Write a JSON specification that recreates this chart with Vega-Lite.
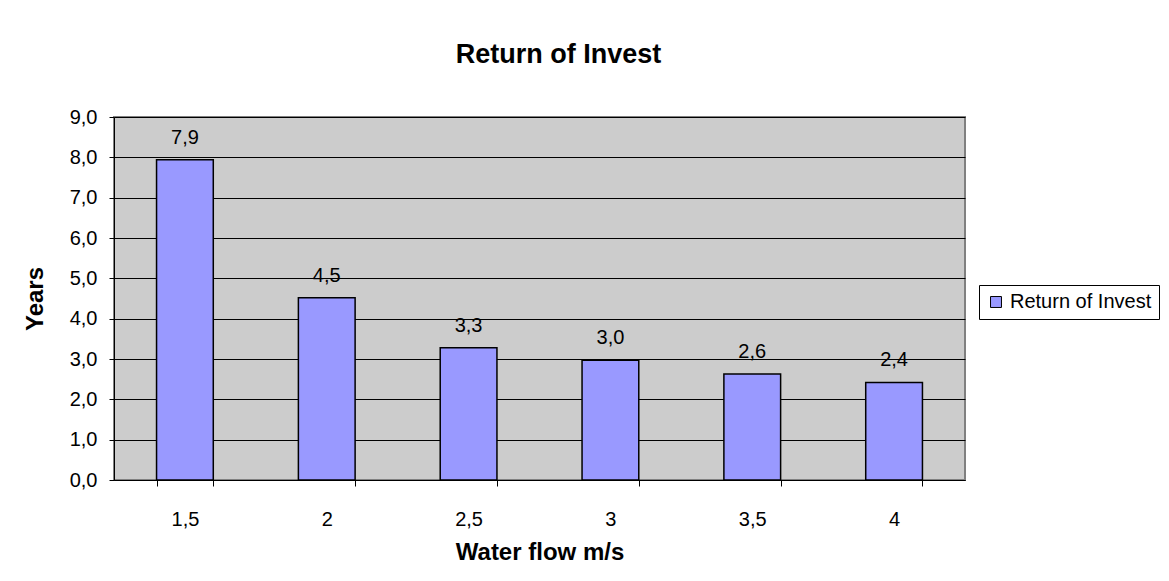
{
  "$schema": "https://vega.github.io/schema/vega-lite/v6.json",
  "autosize": "none",
  "width": 851,
  "height": 363,
  "padding": {"left": 114, "top": 117, "right": 204, "bottom": 101},
  "background": "white",
  "title": {
    "text": "Return of Invest",
    "fontSize": 27,
    "font": "Liberation Sans",
    "fontWeight": "bold",
    "color": "black",
    "anchor": "middle",
    "offset": 38,
    "dx": 19
  },
  "data": {
    "values": [
      {"flow": 1.5, "years": 7.94},
      {"flow": 2, "years": 4.52},
      {"flow": 2.5, "years": 3.28},
      {"flow": 3, "years": 2.97},
      {"flow": 3.5, "years": 2.63},
      {"flow": 4, "years": 2.42}
    ]
  },
  "encoding": {
    "x": {
      "field": "flow",
      "type": "ordinal",
      "sort": null,
      "scale": {"paddingInner": 0.6, "paddingOuter": 0.3},
      "axis": {
        "title": "Water flow m/s",
        "format": ".1~f",
        "formatType": "number",
        "labelAngle": 0,
        "tickBand": "extent",
        "tickSize": 6,
        "labelPadding": 23,
        "titlePadding": 11
      }
    },
    "y": {
      "field": "years",
      "type": "quantitative",
      "scale": {"domain": [0, 9], "nice": false},
      "axis": {
        "title": "Years",
        "values": [0, 1, 2, 3, 4, 5, 6, 7, 8, 9],
        "format": ".1f",
        "grid": true,
        "tickSize": 5,
        "labelPadding": 12,
        "titlePadding": 22
      }
    }
  },
  "layer": [
    {
      "mark": {"type": "bar", "stroke": "black", "strokeWidth": 1.5},
      "encoding": {
        "color": {
          "datum": "Return of Invest",
          "type": "nominal",
          "scale": {"range": ["#9999FF"]},
          "legend": {
            "title": null,
            "orient": "none",
            "legendX": 865,
            "legendY": 168,
            "strokeColor": "black",
            "fillColor": "white",
            "padding": 7,
            "symbolType": "square",
            "symbolSize": 120,
            "symbolStrokeColor": "black",
            "symbolStrokeWidth": 1,
            "labelFontSize": 20,
            "labelFont": "Liberation Sans",
            "labelColor": "black"
          }
        }
      }
    },
    {
      "mark": {"type": "text", "baseline": "bottom", "dy": -12, "fontSize": 20, "font": "Liberation Sans", "color": "black"},
      "encoding": {
        "text": {"field": "years", "type": "quantitative", "format": ".1f"}
      }
    }
  ],
  "config": {
    "locale": {
      "number": {"decimal": ",", "thousands": ".", "grouping": [3], "currency": ["", " €"]}
    },
    "view": {"fill": "#CCCCCC", "stroke": "#808080", "strokeWidth": 2},
    "axis": {
      "labelFont": "Liberation Sans",
      "labelFontSize": 20,
      "labelColor": "black",
      "titleFont": "Liberation Sans",
      "titleFontSize": 24,
      "titleFontWeight": "bold",
      "titleColor": "black",
      "domainColor": "black",
      "domainWidth": 1,
      "tickColor": "black",
      "tickWidth": 1,
      "gridColor": "black",
      "gridWidth": 1,
      "gridOpacity": 1
    }
  }
}
